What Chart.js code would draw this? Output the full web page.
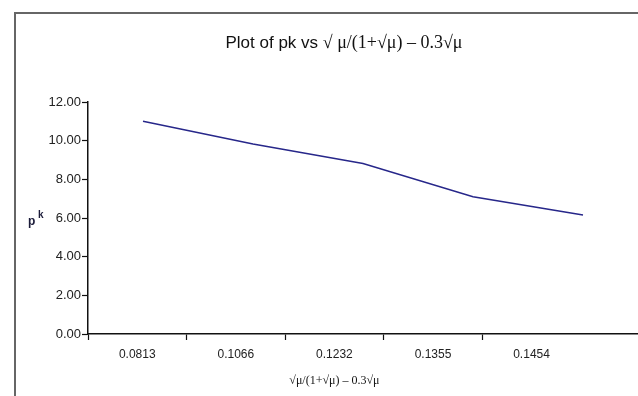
<!DOCTYPE html>
<html>
<head>
<meta charset="utf-8">
<script src="https://cdn.jsdelivr.net/npm/chart.js@4/dist/chart.umd.min.js"></script>
<style>
    html, body { margin: 0; padding: 0; background: #fff; overflow: hidden; }
    #wrap { position: relative; width: 638px; height: 396px; }
    #frame {
        position: absolute; left: 14px; top: 12px; width: 700px; height: 500px;
        border-top: 2px solid #666; border-left: 2px solid #666;
        pointer-events: none;
    }
</style>
</head>
<body>
<div id="wrap">
    <canvas id="pkChart"></canvas>
    <div id="frame"></div>
</div>
<script>
/* --- pk vs sqrt(mu) plot --- */

const xLabels = ['0.0813', '0.1066', '0.1232', '0.1355', '0.1454'];
const pkValues = [11.0, 9.83, 8.82, 7.1, 6.15];
const yTicks = [0, 2, 4, 6, 8, 10, 12];

const TITLE_TEXT = 'Plot of pk vs ';
const TITLE_FORMULA = '\u221A \u03BC/(1+\u221A\u03BC) \u2013 0.3\u221A\u03BC';
const X_TITLE = '\u221A\u03BC/(1+\u221A\u03BC) \u2013 0.3\u221A\u03BC';

// titles drawn by hand: mixed fonts and a superscript
const textPlugin = {
    id: 'pkText',
    afterDraw(chart) {
        const ctx = chart.ctx;
        ctx.save();
        ctx.fillStyle = '#111';
        ctx.textBaseline = 'alphabetic';

        // main title
        const sansFont = '17px "Liberation Sans", Arial, sans-serif';
        const serifFont = '18px "Liberation Serif", "Times New Roman", serif';
        ctx.font = sansFont;
        const w1 = ctx.measureText(TITLE_TEXT).width;
        ctx.font = serifFont;
        const w2 = ctx.measureText(TITLE_FORMULA).width;
        const x = 344 - (w1 + w2) / 2;
        ctx.textAlign = 'left';
        ctx.font = sansFont;
        ctx.fillText(TITLE_TEXT, x, 48);
        ctx.font = serifFont;
        ctx.fillText(TITLE_FORMULA, x + w1, 48);

        // y axis title p^k
        ctx.fillStyle = '#1c1c3a';
        ctx.font = 'bold 12px "Liberation Sans", Arial, sans-serif';
        ctx.fillText('p', 28, 225);
        ctx.font = 'bold 10px "Liberation Sans", Arial, sans-serif';
        ctx.fillText('k', 38, 218);

        // x axis title centred under the labels
        ctx.fillStyle = '#111';
        const xs = chart.scales.x;
        ctx.font = '12px "Liberation Serif", "Times New Roman", serif';
        ctx.textAlign = 'center';
        ctx.fillText(X_TITLE, xs.getPixelForValue(2), 384);
        ctx.restore();
    }
};

const ctx = document.getElementById('pkChart').getContext('2d');
new Chart(ctx, {
    type: 'line',
    data: {
        labels: xLabels,
        datasets: [{
            data: pkValues,
            xAxisID: 'x2',
            borderColor: '#27278a',
            borderWidth: 1.5,
            pointRadius: 0,
            tension: 0,
            fill: false
        }]
    },
    options: {
        responsive: true,
        maintainAspectRatio: false,
        animation: false,
        layout: { padding: { top: 102, right: 0, left: 0, bottom: 0 } },
        plugins: { legend: { display: false }, tooltip: { enabled: false } },
        scales: {
            x: {
                type: 'linear',
                min: -0.5,
                max: 5.08,
                afterBuildTicks: scale => {
                    const t = [];
                    for (let v = -0.5; v <= xLabels.length - 1; v += 0.5) t.push({ value: v });
                    scale.ticks = t;
                },
                afterFit: scale => { scale.height = 62; },
                grid: {
                    drawOnChartArea: false,
                    tickLength: 6,
                    tickWidth: 1.2,
                    tickColor: c => Number.isInteger(c.tick.value) ? 'rgba(0,0,0,0)' : '#111'
                },
                border: { display: true, color: '#111', width: 1.5 },
                ticks: {
                    autoSkip: false,
                    maxRotation: 0,
                    padding: 7,
                    color: '#222',
                    font: { family: '"Liberation Sans", Arial, sans-serif', size: 12 },
                    callback: v => Number.isInteger(v) ? xLabels[v] : ''
                }
            },
            x2: {
                type: 'category',
                labels: xLabels,
                offset: true,
                display: false
            },
            y: {
                min: 0,
                max: 12,
                afterBuildTicks: scale => { scale.ticks = yTicks.map(v => ({ value: v })); },
                afterFit: scale => { scale.width = 88; },
                grid: { drawOnChartArea: false, tickLength: 6, tickWidth: 1.2, tickColor: '#111' },
                border: { display: true, color: '#111', width: 1.5 },
                ticks: {
                    padding: 1,
                    color: '#222',
                    font: { family: '"Liberation Sans", Arial, sans-serif', size: 13 },
                    callback: v => v.toFixed(2)
                }
            }
        }
    },
    plugins: [textPlugin]
});
</script>
</body>
</html>
